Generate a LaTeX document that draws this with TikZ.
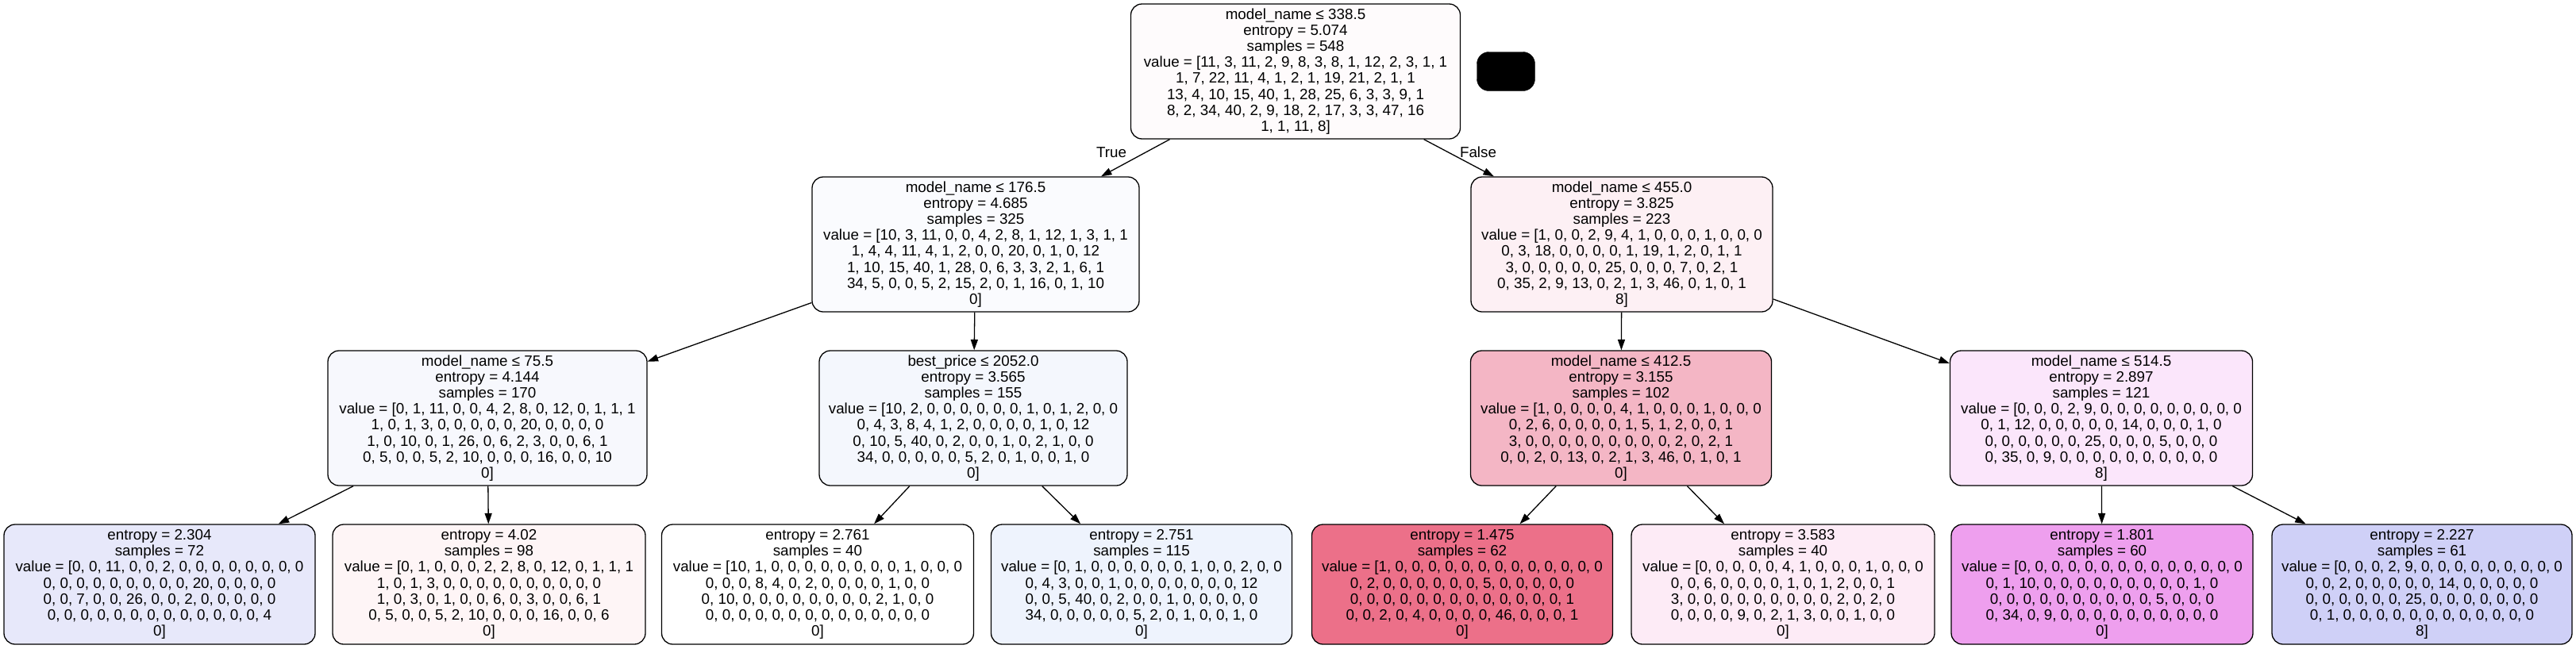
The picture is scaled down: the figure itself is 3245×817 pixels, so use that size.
\documentclass[tikz,border=0pt]{standalone}
\usepackage{fontspec}
\setmainfont{Liberation Sans}
\usetikzlibrary{arrows.meta}
\definecolor{croot}{HTML}{FEFBFC}
\definecolor{cna}{HTML}{FAFBFE}
\definecolor{cnb}{HTML}{FDF0F4}
\definecolor{cnc}{HTML}{F7F8FD}
\definecolor{cnd}{HTML}{F4F7FD}
\definecolor{cne}{HTML}{F4B6C5}
\definecolor{cnf}{HTML}{FBE6FB}
\definecolor{cla}{HTML}{E7E8FA}
\definecolor{clb}{HTML}{FEF5F6}
\definecolor{clc}{HTML}{FFFFFF}
\definecolor{cld}{HTML}{EEF3FD}
\definecolor{cle}{HTML}{EC7089}
\definecolor{clf}{HTML}{FDEBF6}
\definecolor{clg}{HTML}{EE9FEE}
\definecolor{clh}{HTML}{CFD0F7}
\tikzset{
  tnode/.style={draw=black, line width=1.3pt, rounded corners=14pt, inner sep=0pt,
    align=center, font=\fontsize{18.8}{20.2}\selectfont},
  inner/.style={tnode, minimum height=170pt},
  leaf/.style={tnode, minimum height=151pt},
  conn/.style={line width=1.3pt, -{Triangle[length=13.4pt,width=9pt]}},
  elabel/.style={font=\fontsize{18.8}{20.2}\selectfont, inner sep=0pt}
}
\begin{document}
\begin{tikzpicture}[x=1pt,y=-1pt]
\useasboundingbox (0,0) rectangle (3245,817);
% root
\node[inner, fill=croot, minimum width=415pt] (root) at (1632,90) {model\_name ≤ 338.5\\entropy = 5.074\\samples = 548\\value = [11, 3, 11, 2, 9, 8, 3, 8, 1, 12, 2, 3, 1, 1\\1, 7, 22, 11, 4, 1, 2, 1, 19, 21, 2, 1, 1\\13, 4, 10, 15, 40, 1, 28, 25, 6, 3, 3, 9, 1\\8, 2, 34, 40, 2, 9, 18, 2, 17, 3, 3, 47, 16\\1, 1, 11, 8]};
\node[draw=black, fill=black, rounded corners=15pt, minimum width=73pt, minimum height=49pt, inner sep=0pt] (blob) at (1897,90) {};
% level 2
\node[inner, fill=cna, minimum width=412pt] (na) at (1229,308) {model\_name ≤ 176.5\\entropy = 4.685\\samples = 325\\value = [10, 3, 11, 0, 0, 4, 2, 8, 1, 12, 1, 3, 1, 1\\1, 4, 4, 11, 4, 1, 2, 0, 0, 20, 0, 1, 0, 12\\1, 10, 15, 40, 1, 28, 0, 6, 3, 3, 2, 1, 6, 1\\34, 5, 0, 0, 5, 2, 15, 2, 0, 1, 16, 0, 1, 10\\0]};
\node[inner, fill=cnb, minimum width=380pt] (nb) at (2043,308) {model\_name ≤ 455.0\\entropy = 3.825\\samples = 223\\value = [1, 0, 0, 2, 9, 4, 1, 0, 0, 0, 1, 0, 0, 0\\0, 3, 18, 0, 0, 0, 0, 1, 19, 1, 2, 0, 1, 1\\3, 0, 0, 0, 0, 0, 25, 0, 0, 0, 7, 0, 2, 1\\0, 35, 2, 9, 13, 0, 2, 1, 3, 46, 0, 1, 0, 1\\8]};
% level 3
\node[inner, fill=cnc, minimum width=402pt] (nc) at (614,527) {model\_name ≤ 75.5\\entropy = 4.144\\samples = 170\\value = [0, 1, 11, 0, 0, 4, 2, 8, 0, 12, 0, 1, 1, 1\\1, 0, 1, 3, 0, 0, 0, 0, 0, 20, 0, 0, 0, 0\\1, 0, 10, 0, 1, 26, 0, 6, 2, 3, 0, 0, 6, 1\\0, 5, 0, 0, 5, 2, 10, 0, 0, 0, 16, 0, 0, 10\\0]};
\node[inner, fill=cnd, minimum width=388pt] (nd) at (1226,527) {best\_price ≤ 2052.0\\entropy = 3.565\\samples = 155\\value = [10, 2, 0, 0, 0, 0, 0, 0, 1, 0, 1, 2, 0, 0\\0, 4, 3, 8, 4, 1, 2, 0, 0, 0, 0, 1, 0, 12\\0, 10, 5, 40, 0, 2, 0, 0, 1, 0, 2, 1, 0, 0\\34, 0, 0, 0, 0, 0, 5, 2, 0, 1, 0, 0, 1, 0\\0]};
\node[inner, fill=cne, minimum width=379pt] (ne) at (2042,527) {model\_name ≤ 412.5\\entropy = 3.155\\samples = 102\\value = [1, 0, 0, 0, 0, 4, 1, 0, 0, 0, 1, 0, 0, 0\\0, 2, 6, 0, 0, 0, 0, 1, 5, 1, 2, 0, 0, 1\\3, 0, 0, 0, 0, 0, 0, 0, 0, 0, 2, 0, 2, 1\\0, 0, 2, 0, 13, 0, 2, 1, 3, 46, 0, 1, 0, 1\\0]};
\node[inner, fill=cnf, minimum width=381pt] (nf) at (2647,527) {model\_name ≤ 514.5\\entropy = 2.897\\samples = 121\\value = [0, 0, 0, 2, 9, 0, 0, 0, 0, 0, 0, 0, 0, 0\\0, 1, 12, 0, 0, 0, 0, 0, 14, 0, 0, 0, 1, 0\\0, 0, 0, 0, 0, 0, 25, 0, 0, 0, 5, 0, 0, 0\\0, 35, 0, 9, 0, 0, 0, 0, 0, 0, 0, 0, 0, 0\\8]};
% leaves
\node[leaf, fill=cla, minimum width=392pt] (la) at (201,736.5) {entropy = 2.304\\samples = 72\\value = [0, 0, 11, 0, 0, 2, 0, 0, 0, 0, 0, 0, 0, 0\\0, 0, 0, 0, 0, 0, 0, 0, 0, 20, 0, 0, 0, 0\\0, 0, 7, 0, 0, 26, 0, 0, 2, 0, 0, 0, 0, 0\\0, 0, 0, 0, 0, 0, 0, 0, 0, 0, 0, 0, 0, 4\\0]};
\node[leaf, fill=clb, minimum width=394pt] (lb) at (616,736.5) {entropy = 4.02\\samples = 98\\value = [0, 1, 0, 0, 0, 2, 2, 8, 0, 12, 0, 1, 1, 1\\1, 0, 1, 3, 0, 0, 0, 0, 0, 0, 0, 0, 0, 0\\1, 0, 3, 0, 1, 0, 0, 6, 0, 3, 0, 0, 6, 1\\0, 5, 0, 0, 5, 2, 10, 0, 0, 0, 16, 0, 0, 6\\0]};
\node[leaf, fill=clc, minimum width=393pt] (lc) at (1030,736.5) {entropy = 2.761\\samples = 40\\value = [10, 1, 0, 0, 0, 0, 0, 0, 0, 0, 1, 0, 0, 0\\0, 0, 0, 8, 4, 0, 2, 0, 0, 0, 0, 1, 0, 0\\0, 10, 0, 0, 0, 0, 0, 0, 0, 0, 2, 1, 0, 0\\0, 0, 0, 0, 0, 0, 0, 0, 0, 0, 0, 0, 0, 0\\0]};
\node[leaf, fill=cld, minimum width=379pt] (ld) at (1438,736.5) {entropy = 2.751\\samples = 115\\value = [0, 1, 0, 0, 0, 0, 0, 0, 1, 0, 0, 2, 0, 0\\0, 4, 3, 0, 0, 1, 0, 0, 0, 0, 0, 0, 0, 12\\0, 0, 5, 40, 0, 2, 0, 0, 1, 0, 0, 0, 0, 0\\34, 0, 0, 0, 0, 0, 5, 2, 0, 1, 0, 0, 1, 0\\0]};
\node[leaf, fill=cle, minimum width=379pt] (le) at (1842,736.5) {entropy = 1.475\\samples = 62\\value = [1, 0, 0, 0, 0, 0, 0, 0, 0, 0, 0, 0, 0, 0\\0, 2, 0, 0, 0, 0, 0, 0, 5, 0, 0, 0, 0, 0\\0, 0, 0, 0, 0, 0, 0, 0, 0, 0, 0, 0, 0, 1\\0, 0, 2, 0, 4, 0, 0, 0, 0, 46, 0, 0, 0, 1\\0]};
\node[leaf, fill=clf, minimum width=382pt] (lf) at (2246,736.5) {entropy = 3.583\\samples = 40\\value = [0, 0, 0, 0, 0, 4, 1, 0, 0, 0, 1, 0, 0, 0\\0, 0, 6, 0, 0, 0, 0, 1, 0, 1, 2, 0, 0, 1\\3, 0, 0, 0, 0, 0, 0, 0, 0, 0, 2, 0, 2, 0\\0, 0, 0, 0, 9, 0, 2, 1, 3, 0, 0, 1, 0, 0\\0]};
\node[leaf, fill=clg, minimum width=380pt] (lg) at (2648,736.5) {entropy = 1.801\\samples = 60\\value = [0, 0, 0, 0, 0, 0, 0, 0, 0, 0, 0, 0, 0, 0\\0, 1, 10, 0, 0, 0, 0, 0, 0, 0, 0, 0, 1, 0\\0, 0, 0, 0, 0, 0, 0, 0, 0, 0, 5, 0, 0, 0\\0, 34, 0, 9, 0, 0, 0, 0, 0, 0, 0, 0, 0, 0\\0]};
\node[leaf, fill=clh, minimum width=378pt] (lh) at (3051,736.5) {entropy = 2.227\\samples = 61\\value = [0, 0, 0, 2, 9, 0, 0, 0, 0, 0, 0, 0, 0, 0\\0, 0, 2, 0, 0, 0, 0, 0, 14, 0, 0, 0, 0, 0\\0, 0, 0, 0, 0, 0, 25, 0, 0, 0, 0, 0, 0, 0\\0, 1, 0, 0, 0, 0, 0, 0, 0, 0, 0, 0, 0, 0\\8]};
% connectors
\draw[conn] (root) -- (na);
\draw[conn] (root) -- (nb);
\draw[conn] (na) -- (nc);
\draw[conn] (na) -- (nd);
\draw[conn] (nb) -- (ne);
\draw[conn] (nb) -- (nf);
\draw[conn] (nc) -- (la);
\draw[conn] (nc) -- (lb);
\draw[conn] (nd) -- (lc);
\draw[conn] (nd) -- (ld);
\draw[conn] (ne) -- (le);
\draw[conn] (ne) -- (lf);
\draw[conn] (nf) -- (lg);
\draw[conn] (nf) -- (lh);
\node[elabel] (ltrue) at (1400,192) {True};
\node[elabel] (lfalse) at (1862,192) {False};
\end{tikzpicture}
\end{document}
